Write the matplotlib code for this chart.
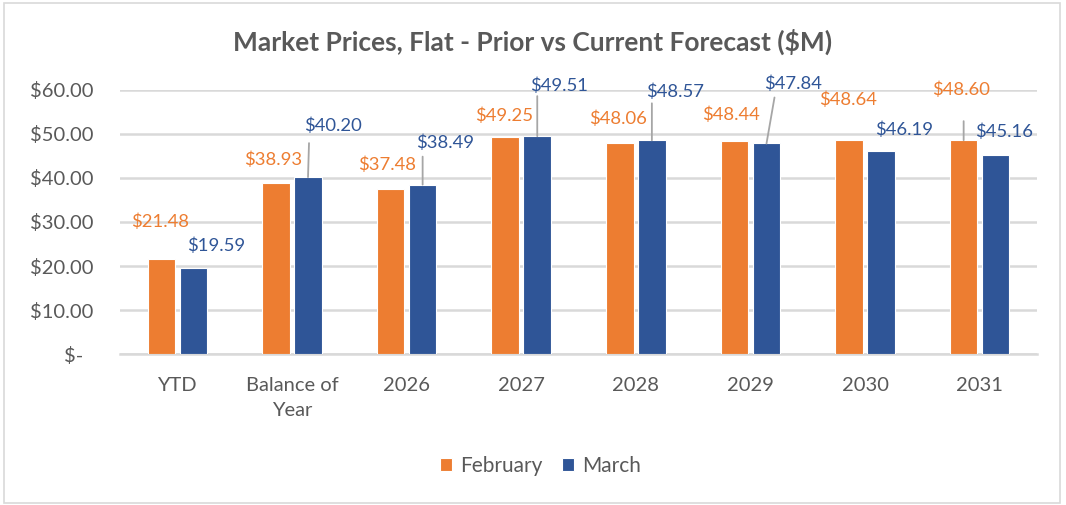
import numpy as np
import matplotlib
matplotlib.use("Agg")
import matplotlib.pyplot as plt
from matplotlib.patches import Rectangle

categories = ["YTD", "Balance of\nYear", "2026", "2027", "2028", "2029", "2030", "2031"]
february = [21.48, 38.93, 37.48, 49.25, 48.06, 48.44, 48.64, 48.60]
march = [19.59, 40.20, 38.49, 49.51, 48.57, 47.84, 46.19, 45.16]
yticks = [0, 10, 20, 30, 40, 50, 60]
ytick_labels = ["$-  ", "$10.00", "$20.00", "$30.00", "$40.00", "$50.00", "$60.00"]

# label offsets from bar top (pixels, x right / y up), as placed in the picture
feb_off = [(-1, 38), (-3, 23), (-3, 24), (-1, 22), (-2, 24), (-3, 26), (-1, 40), (-3, 50)]
mar_off = [(23, 22), (25, 51), (22, 42), (22, 50), (23, 49), (27, 60), (23, 21), (8, 24)]
# leader lines: (series, index, start dx, end dx, end dy)
leaders = [("m", 1, 2, 3, 34), ("m", 2, 2, 2, 28), ("m", 3, 2, 2, 40),
           ("m", 4, 1, 1, 37), ("m", 5, 0, 8, 46), ("f", 7, 0, 0, 19)]

orange = "#ED7D31"
blue = "#2F5597"
grey_txt = "#595959"
plt.rcParams["font.family"] = ["Lato", "DejaVu Sans"]

fig = plt.figure(figsize=(10.66, 5.05), dpi=100)
fig.patches.append(Rectangle((0.004, 0.004), 0.99, 0.99, transform=fig.transFigure,
                             fill=False, edgecolor="#d9d9d9", linewidth=1.2))
ax = fig.add_axes([0.1126, 0.299, 0.8602, 0.5228])

x = np.arange(len(categories))
w = 0.24
d = 0.14
b1 = ax.bar(x - d, february, w, color=orange, edgecolor="white", linewidth=0.8,
            label="February", zorder=3)
b2 = ax.bar(x + d, march, w, color=blue, edgecolor="white", linewidth=0.8,
            label="March", zorder=3)

px = 72 / 100  # pixels -> points
for i in range(len(categories)):
    ax.annotate("${:.2f}".format(february[i]), (x[i] - d, february[i]),
                xytext=(feb_off[i][0] * px, feb_off[i][1] * px),
                textcoords="offset points", ha="center", va="center",
                color=orange, fontsize=13.3)
    ax.annotate("${:.2f}".format(march[i]), (x[i] + d, march[i]),
                xytext=(mar_off[i][0] * px, mar_off[i][1] * px),
                textcoords="offset points", ha="center", va="center",
                color=blue, fontsize=13.3)

for s, i, sx, ex, ey in leaders:
    xc = x[i] - d if s == "f" else x[i] + d
    v = february[i] if s == "f" else march[i]
    ax.annotate("", xy=(xc, v), xytext=((ex - sx) * px, ey * px),
                textcoords="offset points",
                arrowprops=dict(arrowstyle="-", color="#a6a6a6", lw=1.3,
                                shrinkA=0, shrinkB=0,
                                relpos=(0.5, 0.5)))

ax.set_xlim(-0.5, len(categories) - 0.5)
ax.set_ylim(0, 60)
ax.set_yticks(yticks)
ax.set_yticklabels(ytick_labels)
ax.set_xticks(x)
ax.set_xticklabels(categories, linespacing=1.6)
ax.tick_params(axis="y", length=0, pad=27 * px, labelsize=14.5, labelcolor=grey_txt)
ax.tick_params(axis="x", length=0, pad=23 * px, labelsize=14.5, labelcolor=grey_txt)

ax.grid(axis="y", color="#d9d9d9", linewidth=1.8, zorder=0)
for sp in ["top", "right", "left"]:
    ax.spines[sp].set_visible(False)
ax.spines["bottom"].set_color("#d9d9d9")
ax.spines["bottom"].set_linewidth(1.8)
ax.set_axisbelow(True)

fig.text(0.5, 0.918, "Market Prices, Flat - Prior vs Current Forecast ($M)",
         ha="center", va="center", fontsize=19, fontweight="bold", color=grey_txt)

fig.legend(handles=[b1, b2], loc="center", bbox_to_anchor=(0.507, 0.077), ncol=2,
           frameon=False, fontsize=15, handlelength=0.6, handleheight=0.6,
           handletextpad=0.4, columnspacing=0.9, labelcolor=grey_txt)

fig.savefig("out.png", dpi=100, facecolor="white")
